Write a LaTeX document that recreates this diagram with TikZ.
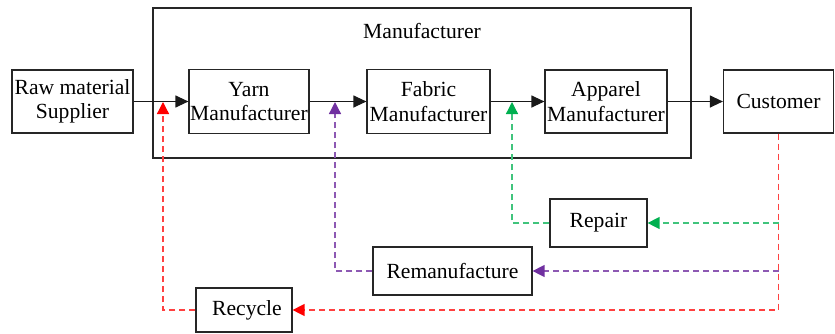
\documentclass[tikz,border=0pt]{standalone}
\usepackage{fontspec}
\setmainfont{Liberation Serif}
\usetikzlibrary{arrows.meta}
\definecolor{rcol}{RGB}{255,0,0}
\definecolor{gcol}{RGB}{0,176,80}
\definecolor{pcol}{RGB}{112,48,160}
\tikzset{
  box/.style={draw=black!85, line width=1.2pt, fill=white, align=center, inner sep=0pt,
    font=\fontsize{21.6}{24.5}\selectfont},
  flow/.style={draw=black!90, line width=1.2pt, -{Triangle[length=13pt,width=12pt]}},
  loopline/.style={line width=1.3pt, dash pattern=on 6pt off 4pt},
  redloop/.style={loopline, draw=rcol!75, arrows={-{Triangle[length=12pt,width=12pt,color=rcol]}}},
  greenloop/.style={loopline, draw=gcol!75, arrows={-{Triangle[length=12pt,width=12pt,color=gcol]}}},
  purpleloop/.style={loopline, draw=pcol!80, arrows={-{Triangle[length=12pt,width=12pt,color=pcol]}}},
}
\begin{document}
\begin{tikzpicture}[x=1pt,y=-1pt]
\useasboundingbox (0,0) rectangle (835,333);
% Manufacturer frame
\draw[draw=black!85, line width=1.2pt] (153,8) rectangle (691,158);
\node[font=\fontsize{21.6}{24.5}\selectfont] (mlabel) at (422,31) {Manufacturer};
% main nodes
\node[box, minimum width=121pt, minimum height=63pt] (raw) at (72.5,101.5) {Raw material\\Supplier};
\node[box, minimum width=120pt, minimum height=64pt] (yarn) at (249,101.5) {Yarn\\Manufacturer};
\node[box, minimum width=123pt, minimum height=64pt] (fabric) at (428.5,101.5) {Fabric\\Manufacturer};
\node[box, minimum width=122pt, minimum height=63pt] (apparel) at (606,101.5) {Apparel\\Manufacturer};
\node[box, minimum width=110pt, minimum height=63pt] (customer) at (778.5,101.5) {Customer};
% loop nodes
\node[box, minimum width=97pt, minimum height=48pt] (repair) at (598.5,223) {Repair};
\node[box, minimum width=159pt, minimum height=48pt] (reman) at (452.5,271) {Remanufacture};
\node[box, minimum width=96pt, minimum height=44pt] (recycle) at (244,310) {\hspace*{6pt}Recycle};
% tips
\coordinate (rtip) at (163,102);
\coordinate (ptip) at (335,102);
\coordinate (gtip) at (512,102);
% flows
\draw[flow] (raw.east) -- (yarn.west);
\draw[flow] (yarn.east) -- (fabric.west);
\draw[flow] (fabric.east) -- (apparel.west);
\draw[flow] (apparel.east) -- (customer.west);
% loops
\draw[redloop] (customer.south) |- (recycle.east);
\draw[redloop] (recycle.west) -| (rtip);
\draw[greenloop] (customer.south |- repair.east) -- (repair.east);
\draw[greenloop] (repair.west) -| (gtip);
\draw[purpleloop] (customer.south |- reman.east) -- (reman.east);
\draw[purpleloop] (reman.west) -| (ptip);
\end{tikzpicture}
\end{document}
